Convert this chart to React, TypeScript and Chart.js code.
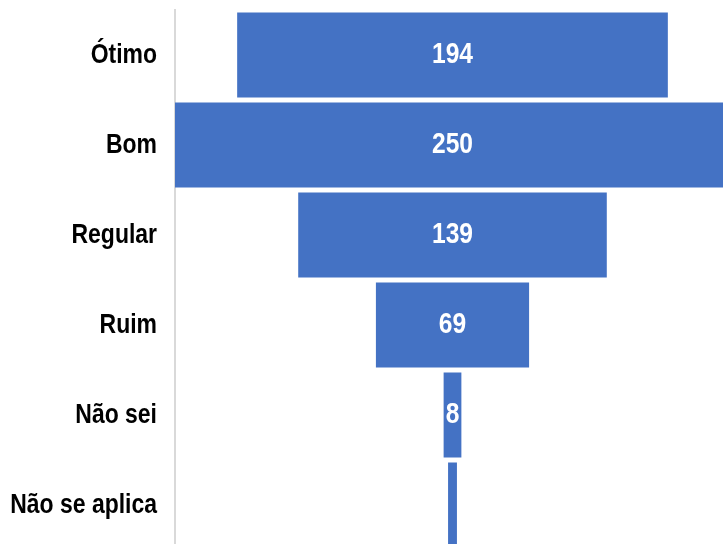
import React, { useEffect, useRef } from "react";
import { Chart, registerables } from "chart.js";

Chart.register(...registerables);

const categories = ["Ótimo", "Bom", "Regular", "Ruim", "Não sei", "Não se aplica"];
const values = [194, 250, 139, 69, 8, 4];
const showValueLabel = [true, true, true, true, true, false];

const FONT = "'Liberation Sans', Arial, sans-serif";
const NARROW = 0.82;

const labelPlugin = {
  id: "narrowLabels",
  afterDatasetsDraw(chart: any) {
    const ctx = chart.ctx;
    const meta = chart.getDatasetMeta(0);
    const yScale = chart.scales.y;
    const area = chart.chartArea;
    ctx.save();
    ctx.textBaseline = "alphabetic";
    // category labels
    ctx.fillStyle = "#000000";
    ctx.font = `bold 28px ${FONT}`;
    ctx.textAlign = "right";
    categories.forEach((c, i) => {
      const y = yScale.getPixelForValue(i);
      ctx.save();
      ctx.translate(area.left - 18, y + 7.5);
      ctx.scale(NARROW, 1);
      ctx.fillText(c, 0, 0);
      ctx.restore();
    });
    // value labels
    ctx.fillStyle = "#ffffff";
    ctx.font = `bold 30px ${FONT}`;
    ctx.textAlign = "center";
    meta.data.forEach((bar: any, i: number) => {
      if (!showValueLabel[i]) return;
      const p = bar.getProps(["x", "y", "base"], true);
      const cx = (p.x + p.base) / 2;
      ctx.save();
      ctx.translate(cx, p.y + 8);
      ctx.scale(NARROW, 1);
      ctx.fillText(String(values[i]), 0, 0);
      ctx.restore();
    });
    ctx.restore();
  },
};

export default function App() {
  const ref = useRef<HTMLCanvasElement | null>(null);
  useEffect(() => {
    if (!ref.current) return;
    const chart = new Chart(ref.current, {
      type: "bar",
      data: {
        labels: categories,
        datasets: [
          {
            data: values.map((v) => [-v / 2, v / 2]) as any,
            backgroundColor: "#4472C4",
            borderWidth: 0,
            categoryPercentage: 1,
            barPercentage: 0.944,
          },
        ],
      },
      options: {
        indexAxis: "y",
        responsive: false,
        animation: false,
        devicePixelRatio: 1,
        layout: { padding: { top: 10, bottom: 3, left: 0, right: 0 } },
        plugins: { legend: { display: false }, tooltip: { enabled: false } },
        scales: {
          x: { display: false, min: -125, max: 125 },
          y: {
            afterFit: (scale: any) => {
              scale.width = 175;
              scale.paddingTop = 0;
              scale.paddingBottom = 0;
            },
            grid: { display: false, drawTicks: false },
            border: { display: true, color: "#d9d9d9", width: 2 },
            ticks: { display: false },
          },
        },
      },
      plugins: [labelPlugin],
    });
    return () => chart.destroy();
  }, []);
  return (
    <div
      style={{
        position: "absolute",
        left: 0,
        top: 0,
        width: 723,
        height: 544,
        overflow: "hidden",
        background: "#fff",
      }}
    >
      <canvas ref={ref} width={730} height={553} style={{ width: 730, height: 553, display: "block" }} />
    </div>
  );
}
